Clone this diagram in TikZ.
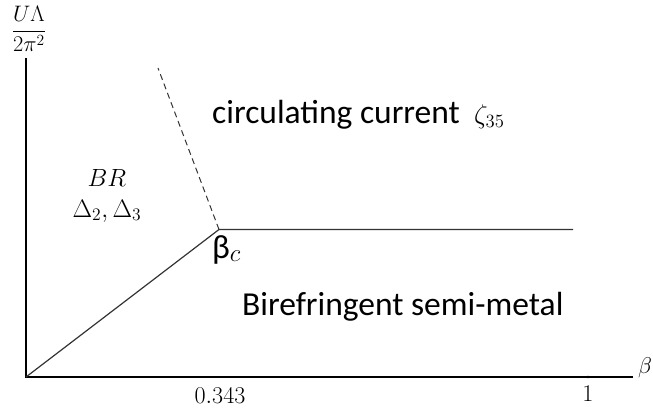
\documentclass[tikz,border=0pt]{standalone}
\usepackage{graphicx}
\usepackage{fontspec}
\newfontfamily\calib{Carlito}
\newcommand{\mybig}[2]{\scalebox{#1}{#2}}
\begin{document}
\begin{tikzpicture}[x=1pt,y=-1pt,
  axis/.style={draw=black, line width=1.3pt},
  phase/.style={draw=black!80, line width=1.2pt},
  lbl/.style={inner sep=0pt, font=\fontsize{20.74}{25}\selectfont},
  sanslbl/.style={inner sep=0pt, font=\calib\fontsize{33.5}{38}\selectfont}]
\useasboundingbox (0,0) rectangle (653,413);
\coordinate (O) at (26,377);
\coordinate (ytop) at (26,58);
\coordinate (xend) at (633,377);
\coordinate (C) at (219,229.5);
\coordinate (R) at (573,229.5);
\coordinate (T) at (158,68);
\draw[axis] (ytop) -- (O) -- (xend);
\draw[phase] (O) -- (C) -- (R);
\draw[phase, line width=1pt, dashed, dash pattern=on 6pt off 4pt] (C) -- (T);
\coordinate (tick1) at (588,377);
\fill (tick1) circle (1.3pt);
\node[lbl] (ylab) at (29,29) {\mybig{1.08}{$\displaystyle\frac{U\Lambda}{2\pi^2}$}};
\node[lbl] (blab) at (645,368) {\mybig{1.1}{$\beta$}};
\node[lbl] (one) at (588,394) {\mybig{1.16}{$1$}};
\node[lbl] (c343) at (220,396) {\mybig{1.16}{$0.343$}};
\node[lbl] (br) at (107,178) {\mybig{1.2}{$BR$}};
\node[lbl] (dd) at (107,211) {\mybig{1.22}{$\Delta_2,\Delta_3$}};
\node[sanslbl, anchor=base west] (bc) at (212,258) {β$_c$};
\node[sanslbl, anchor=base west] (circ) at (212,123) {circulating current};
\node[lbl, anchor=west] (zeta) at (474,117) {\mybig{1.3}{$\zeta_{35}$}};
\node[sanslbl, anchor=base west] (bsm) at (242,315) {Birefringent semi-metal};
\end{tikzpicture}
\end{document}
